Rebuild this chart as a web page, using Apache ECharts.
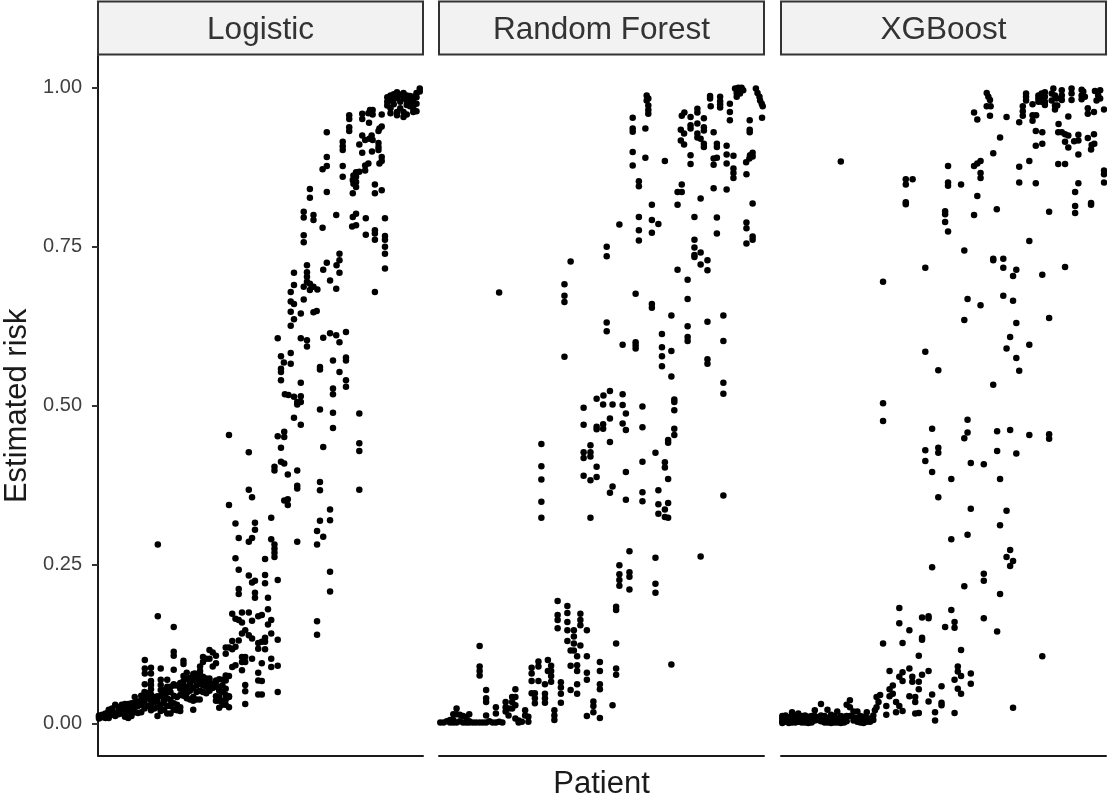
<!DOCTYPE html>
<html><head><meta charset="utf-8">
<style>html,body{margin:0;padding:0;background:#fff}#c{width:1107px;height:800px}</style>
<script src="https://cdn.jsdelivr.net/npm/echarts@6/dist/echarts.min.js"></script>
</head><body><div id="c"></div>
<script>
const modelNames = ['Logistic','Random Forest','XGBoost'];
const riskTicks = [0,0.25,0.5,0.75,1];

// Each row: patient position, then the risks read for that column
const logisticLow = [
[0.3,.011,.008,.013],[1.3,.012,.01,.014],[2.3,.009,.013,.016],[3.3,.009,.012,.018,.022],[4.3,.014,.02,.024],
[5.3,.012,.016,.03],[6.3,.015,.021,.026],[7.3,.016,.02,.03],[8.3,.011,.017,.026,.031],[9.3,.009,.015,.023,.031],
[10.3,.012,.021,.028,.032],[11.3,.018,.025,.033,.042],[12.3,.017,.028,.035],[13.3,.018,.03,.037,.044],[14.3,.024,.034,.042,.05],
[15.3,.028,.04,.048],[16.3,.021,.03,.037,.046,.054],[17.3,.024,.034,.042],[18.3,.012,.026,.036,.043],[19.3,.02,.03,.044,.053],
[20.3,.022,.033,.038,.046,.053],[21.3,.016,.028,.04,.05,.058],[22.3,.016,.028,.037,.05,.058],[23.3,.022,.032,.044,.06,.062],[24.3,.021,.03,.042,.06],
[25.3,.02,.026,.045,.055,.064],[26.3,.044,.052,.06,.067],[27.3,.04,.048,.058,.07],[28.3,.038,.052,.062,.072],[29.3,.022,.036,.042,.056,.068,.078],
[30.3,.038,.05,.06,.07,.076],[31.3,.038,.052,.063,.07],[32.3,.05,.06,.068,.074],[33.3,.048,.058,.065,.071],[34.3,.052,.061,.067],
[35.3,.056,.062],[36.3,.036,.043,.058,.066],[37.3,.025,.036,.042,.052,.058,.07],[38.3,.03,.036,.05,.06],[39.3,.03,.038,.045,.055,.068],[40.3,.026,.042,.043]
];
const logisticHigh = [
[89,.985,.978,.972],[90,.988,.98,.968,.96],[91,.99,.982,.974],[92,.993,.984,.962,.957],[93,.989,.978,.968],[94,.992,.983,.962,.954],
[95,.988,.98,.973,.958],[96,.987,.978,.971],[97,.986,.978,.968,.962],[98,.992,.985,.975,.963],[99,.999,.994],
[77.3,.957,.951,.938,.932],[81.3,.959,.951,.925,.898],[83.7,.965],[84.5,.965,.958,.918],[83.2,.96,.881],[87.3,.958,.939,.891,.885,.839],[83.4,.945],
[86.6,.936,.881],[86.3,.932,.913,.907,.902],[70.4,.93,.891,.877,.836,.725],[84.2,.925],[83.5,.92],[82.2,.918,.878,.87],[80.4,.911,.868,.488,.441,.429,.368],
[75.3,.915,.908,.902,.877,.86],[84.3,.9],[69.1,.872,.78],[79.4,.867,.86,.852,.844,.802,.784],[78.6,.862,.849],[78.4,.855,.834,.797],
[65.2,.841,.827,.692,.682],[85.2,.848,.834,.776,.771,.761,.679],[63.3,.805,.796,.768,.757,.687],[66.3,.8,.792,.687,.647],[73.3,.8,.684,.611],[82.4,.795,.769],
[88.3,.795,.767,.761,.75,.739,.716],[78.2,.782],[74.3,.739,.729,.709,.6,.553],[73.4,.721],[69.3,.714,.607,.435,.294],[71.4,.697,.614,.337,.32,.239,.208],
[64.3,.721,.71,.703,.695,.603,.593],[67.5,.683],[60.3,.709,.69,.66,.636,.514,.481],[59.3,.679,.664,.648,.626,.583,.566],[63.3,.667],[62.4,.645,.606,.536,.515,.506,.47],
[67.3,.649],[55.3,.606,.452,.226,.132,.091,.05],[76.3,.616,.576,.571,.54,.53],[56.3,.578,.558,.553,.54,.434,.412],[57.2,.568],[68.3,.561,.557,.494,.38,.367,.319],
[72.3,.571,.527,.518,.489,.465],[57.5,.518],[58.6,.517],[61.3,.506,.502,.398,.374,.37,.286],[40.3,.454,.344,.12,.075],[57.3,.459,.451,.409,.351],
[46.4,.427,.368,.286,.233,.175,.139],[47.4,.356,.292,.222,.162,.134,.102],[58.4,.392,.353,.344],[53.3,.324,.29,.163,.142,.102,.089],[54.3,.404,.398,.282,.275,.269,.262],
[42.3,.315,.26,.165,.121,.092],[48.3,.316,.305,.225,.206,.198],[67.4,.303,.282,.161,.14],[43.3,.292,.242,.212,.204,.163,.131],[51.4,.259,.234,.221,.135,.129,.117],
[52.3,.198,.18,.156],[50.4,.171,.129,.095,.067,.046],[49.3,.169,.127,.118,.08,.068,.046],[41.3,.173,.13,.117,.089],[44.3,.175,.159,.142,.105,.097,.084],[45.3,.147,.105,.097,.061,.051,.031],
[18.4,.282,.169],[23.3,.152,.113,.107,.085],[39.3,.12,.11,.076],[34.3,.116,.102,.071],[35.3,.112,.09],[36.3,.107,.095,.068],[32.3,.105,.097],[33.3,.102],
[31.4,.09,.083,.076],[26.3,.099,.094,.075],[14.4,.1,.087,.079,.062],[16.3,.088,.079,.067,.061],[19.3,.087,.069,.061],[27.3,.08],[29.8,.079],[30.4,.074],[21.3,.069],[38.4,.069]
];

const forestHigh = [
[63.9,.988,.98],[64.4,.983,.972,.965,.959],[83.4,.987,.983],[83.6,.971],[86.5,.986,.979,.974,.969],[89.5,.975,.962,.949],
[91.1,.999],[92.1,1],[93.1,1],[93.6,.996],[91.6,.992,.986],[92.6,.991],[97.5,.999],[98,.992],[98.6,.986],[98.8,.98],[99.3,.975],[99.6,.971],[99.4,.953],
[95.6,.949,.934,.93],[59.6,.953,.936,.931,.899,.878],[63.5,.936,.89],[74.7,.956,.848,.836],[75.5,.961],[79.5,.967,.961,.944,.928,.922],[77.4,.954,.941,.936,.894,.88],
[81.5,.952,.938,.933,.912,.907],[74.4,.934,.917],[75.4,.928,.911],[80.5,.92,.826,.741,.722,.263],[84.5,.93,.889,.879,.842],[85.5,.912,.907,.89,.796,.771],[88.5,.909,.895,.881,.84],
[69.5,.885,.411,.403,.337,.325],[90.6,.893,.873,.866,.858],[96.5,.898,.892,.818,.766,.761],[95.7,.894],[95.5,.889],[94.5,.883],[94.6,.864,.788,.779,.755],[61.5,.853,.845,.797,.776,.76],
[73.4,.836,.816,.714],[65.5,.816,.792,.772,.66,.654],[67.5,.786,.367,.345,.33],[55.5,.785,.249,.235,.226,.217],[78.6,.797,.761,.749,.737,.734],[82.6,.729,.713,.632,.573,.566],
[76.5,.698,.668,.625,.608,.602],[51.6,.75,.735,.631,.617],[40.5,.727,.115,.091,.053],[38.6,.691,.673,.663,.577],[18.5,.678],[60.5,.676,.6,.595,.59],[71.5,.642,.586,.546,.093],
[87.5,.642,.602,.536,.519,.359],[68.6,.613,.592,.578,.562],[56.5,.596,.518,.501,.472],[52.6,.523,.48,.443,.363],[50.6,.516],[48.5,.511,.467,.463,.404,.388],[72.4,.51,.506,.493,.464,.454],
[44.5,.497,.47,.427,.418,.39],[50.5,.502,.471,.464],[53.4,.502,.373,.029],[57.5,.488,.462,.396,.352],[62.6,.499,.466,.412,.364,.35],[70.5,.446,.442,.385,.347,.324],
[31.5,.44,.405,.384,.349,.324],[46.6,.438,.427,.42,.383,.324],[66.6,.426,.261,.22,.206],[58.6,.271,.238,.231,.211],
[54.5,.184,.179,.126,.087,.077],[36.5,.193,.171,.163,.15],[39.5,.185,.174,.16,.147,.13],[43.5,.173,.163,.155,.123],[41.5,.147,.137,.126,.115],[45.5,.147,.106,.08,.069,.012],
[42.5,.106,.092,.083,.062,.047],[49.5,.097,.083,.062,.054,.009],[37.5,.065,.057,.047,.033],[47.5,.035,.028,.018],[35.5,.021,.013,.006],[30.6,.098,.09,.067],
[33.5,.1,.083],[34.5,.091,.083,.075,.066],[32.6,.062,.047,.04,.033],[28.5,.088,.079,.067,.048],[29.5,.048,.04,.032]
];
const forestLow = [
[12.5,.122,.09,.083,.076,.002],[14.5,.053,.04,.034,.013,.002],[17.5,.026,.016,.002],[23.5,.054,.042,.029,.008],[22.5,.042,.034,.024],
[20.5,.034,.026,.019],[21.4,.024,.013],[26.5,.021,.013],[24.5,.005,.002],[27.5,.011,.003],[25.5,.003],
[5.4,.024,.015,.002],[4.4,.015,.006,.002],[6.4,.014,.004],[7.4,.012,.002],[9.3,.015,.004,.002],[8.4,.01,.002],[3.4,.006,.002],
[0.4,.002],[1.4,.002],[2.4,.004],[10.4,.002],[11.4,.002],[13.5,.002],[15.5,.004],[16.5,.002],[18.5,.003],[19.5,.002]
];

const boostHigh = [
[63.3,.992,.971],[63.8,.986],[64.3,.981,.956],[64.5,.971],[59.4,.961,.877,.8],[60.4,.95,.881,.83],[69.4,.954,.59,.335,.262],[75.4,.991,.986,.98],
[79.2,.988,.983,.978],[80.2,.991,.983,.978],[81.2,.993,.986,.978,.973],[83.8,.999],[83.3,.991,.98],[84.3,.988,.972,.966],[84.8,.983],[85,.972],
[86.4,.996,.988,.981,.93],[89.4,.999,.991,.981],[92.5,.997,.988,.982],[93,.994],[93.5,.986],[96.6,.995],[98.2,.996,.983],[97.6,.988],[97.1,.98],[99.4,.966,.87,.864,.851],
[94.4,.968,.959,.921],[74.4,.971,.963,.956],[73.3,.946,.876,.851,.555],[77.4,.974,.957,.948],[78.5,.957],[88.4,.955,.925,.906],[85.4,.943],[85.3,.93,.88],
[87.4,.927,.915,.88,.718],[91.5,.926,.917,.895,.85],[96.3,.962,.927],[78.4,.932,.909,.85],[80.4,.93,.912,.706,.106],[67.4,.922,.385,.312,.204],[90.2,.916],
[96.4,.912],[95.6,.91],[95.4,.903,.819,.816],[65.3,.897,.731,.729,.533],[76.4,.885,.759,.596,.454],[61.4,.885,.866,.858,.658],[51.4,.877,.851,.846,.774],[18.4,.884],
[38.4,.856,.848,.82,.817],[40.5,.856],[55.4,.848,.116,.075,.047],[90.5,.836,.814,.803],[66.4,.809],[82.5,.805,.638,.455,.448],[50.5,.806,.801,.789,.152],
[56.4,.744,.635,.449,.216],[68.4,.731,.717,.673],[72.4,.714,.63,.575,.425],[71.4,.704,.665,.256,.025],[44.4,.717,.585,.43,.413],[31.4,.695,.504,.476,.126],
[57.4,.668,.478,.458,.297],[70.5,.608,.462,.273,.248],[48.4,.556,.434,.426,.356],[66.5,.46,.429,.145],[46.5,.464,.396,.246,.046],[58.4,.41,.338,.079,.063],[62.4,.408,.236,.225,.166],
[52.4,.385,.29,.179],[36.4,.182,.158,.074,.028],[43.4,.167,.135,.132,.077],[45.4,.169,.166,.083,.035],[53.4,.16,.151,.069,.017],[39.5,.147,.087,.043],[37.4,.127,.081,.067,.02],
[42.4,.107,.066,.054,.017],[54.4,.09,.082,.055],[33.4,.083,.054,.043],[40.4,.074,.066],[34.4,.06,.047],[49.4,.059,.033,.029],[41.3,.042,.034,.016],[35.4,.034,.018],
[32.4,.028,.014],[47.4,.018,.005],[30.5,.045],[29.4,.042,.026],[30,.034],[28.9,.021],[28.4,.013,.006],[27.4,.008,.003]
];
const boostLow = [
[0.4,.012,.008,.004,.001],[1.4,.013,.008,.003],[2.4,.01,.005,.001],[3.4,.018,.012,.006,.002],[4.4,.012,.005,.002],[5.3,.016,.008,.003],[6.4,.012,.006,.002],
[7.4,.013,.007,.002],[8.4,.011,.004,.001],[9.4,.012,.006,.002],[10.4,.021,.012,.005],[11.4,.01,.006],[12.3,.031,.013,.004],[13.4,.012,.006,.002],[14.3,.022,.008,.002],
[15.4,.014,.006,.001],[16.4,.012,.005,.002],[17.3,.019,.008,.002],[18.4,.012,.005,.001],[19.4,.011,.006,.002],[20.2,.03,.012,.004],[21.2,.037,.026,.012],
[22.3,.019,.01,.005],[23.5,.019,.009,.003],[24.4,.012,.005,.002],[25.4,.011,.004,.001],[26.4,.018,.009,.003]
];

const expand = rows => rows.flatMap(([patient, ...risks]) => risks.map(risk => [patient, risk]));
const panels = [logisticLow.concat(logisticHigh), forestLow.concat(forestHigh), boostLow.concat(boostHigh)];

const lefts = [98, 439, 781], panelW = 325, panelTop = 56, panelH = 699.5;
const ink = '#333333', fontName = 'Liberation Sans';
const option = {
  animation:false, backgroundColor:'#fff',
  grid: lefts.map(l => ({left:l, top:panelTop, width:panelW, height:panelH, containLabel:false, outerBoundsMode:'none'})),
  xAxis: panels.map((_,i) => ({
    gridIndex:i, type:'value', min:0, max:100, splitLine:{show:false},
    axisTick:{show:false}, axisLabel:{show:false},
    axisLine:{show:true, onZero:false, lineStyle:{color:'#1a1a1a', width:2}},
    name:i===1?'Patient':'', nameLocation:'middle', nameGap:13,
    nameTextStyle:{fontFamily:fontName, fontSize:31, color:'#1a1a1a'}
  })),
  yAxis: panels.map((_,i) => ({
    gridIndex:i, type:'value', min:-0.05, max:1.05, splitLine:{show:false}, show:true,
    axisLine:{show:i===0, onZero:false, lineStyle:{color:'#1a1a1a', width:2}},
    axisTick:{show:i===0, length:6, customValues:riskTicks, lineStyle:{color:'#333', width:2}},
    axisLabel:{show:i===0, customValues:riskTicks, formatter:v=>v.toFixed(2), fontFamily:fontName, fontSize:20, color:'#404040', margin:16},
    name:i===0?'Estimated risk':'', nameLocation:'middle', nameGap:65,
    nameTextStyle:{fontFamily:fontName, fontSize:31, color:'#1a1a1a'}
  })),
  series: panels.map((d,i) => ({
    type:'scatter', xAxisIndex:i, yAxisIndex:i, data:expand(d), symbolSize:6.5,
    itemStyle:{color:'#000', opacity:1}, silent:true
  })),
  graphic: modelNames.flatMap((n,i) => [
    {type:'rect', shape:{x:lefts[i], y:1.5, width:panelW, height:53}, style:{fill:'#f2f2f2', stroke:ink, lineWidth:2}},
    {type:'text', x:lefts[i]+panelW/2, y:30.5, style:{text:n, fontFamily:fontName, fontSize:31.5, fill:'#333', align:'center', verticalAlign:'middle'}}
  ])
};
echarts.init(document.getElementById('c'),null,{renderer:'canvas'}).setOption(option);
</script></body></html>
